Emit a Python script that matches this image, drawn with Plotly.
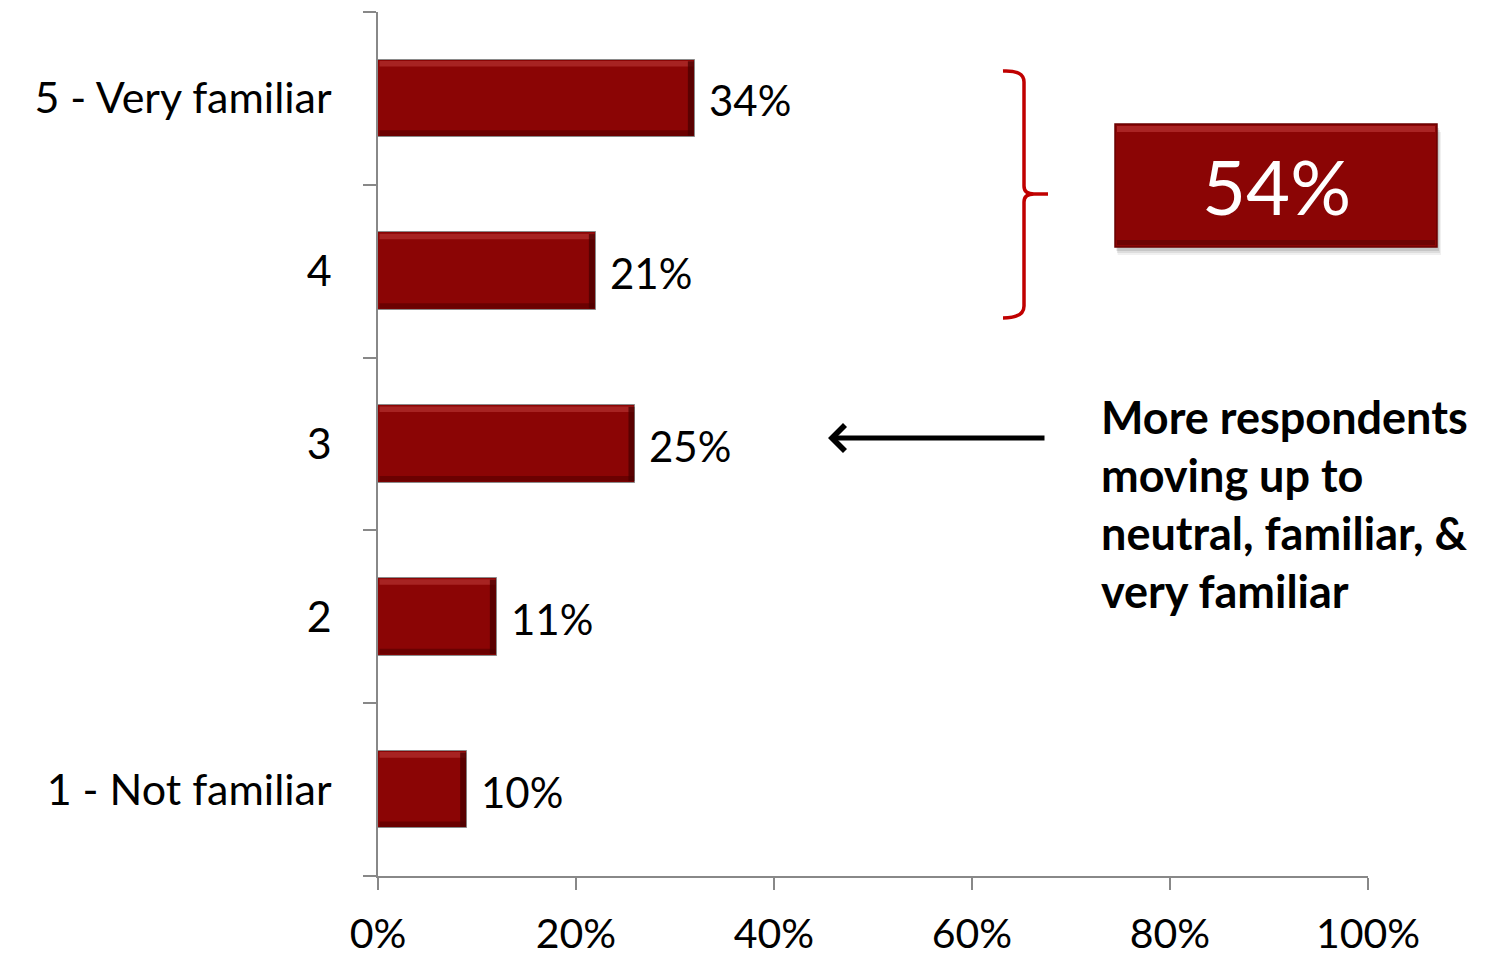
import plotly.graph_objects as go

# ---- data ----
categories = ["1 - Not familiar", "2", "3", "4", "5 - Very familiar"]
bar_lengths = [9, 12, 26, 22, 32]          # bar lengths as drawn (percent)
value_labels = ["10%", "11%", "25%", "21%", "34%"]
x_ticks = [0, 20, 40, 60, 80, 100]
x_tick_labels = ["0%", "20%", "40%", "60%", "80%", "100%"]
summary_label = "54%"
note_lines = ["More respondents", "moving up to", "neutral, familiar, &", "very familiar"]

W, H = 1486, 957
ML, MR, MT, MB = 378, 118, 12, 81
PW, PH = W - ML - MR, H - MT - MB

def px(x):
    return (x - ML) / PW

def py(y):
    return (H - MB - y) / PH

FONT = "Lato"
BAR = "#8B0505"
BARW = 0.45
FS = 42

ypos = list(range(len(categories)))

fig = go.Figure()
fig.add_trace(go.Bar(
    x=bar_lengths, y=ypos, orientation="h", width=BARW,
    marker=dict(color=BAR, line=dict(color="#8a8a8a", width=1)),
    hoverinfo="skip",
))

shapes = []
annotations = []
# bevel effect + value labels computed from bar data
for yi, v, lab in zip(ypos, bar_lengths, value_labels):
    top = yi + BARW / 2
    bot = yi - BARW / 2
    shapes.append(dict(type="rect", xref="x", yref="y", x0=0.15, x1=v - 0.15,
                       y0=top - 0.04, y1=top - 0.008, fillcolor="#B3302F",
                       line=dict(width=0), opacity=0.7, layer="above"))
    shapes.append(dict(type="rect", xref="x", yref="y", x0=0.15, x1=v - 0.15,
                       y0=bot + 0.008, y1=bot + 0.04, fillcolor="#5E0000",
                       line=dict(width=0), opacity=0.7, layer="above"))
    shapes.append(dict(type="rect", xref="x", yref="y", x0=v - 0.7, x1=v - 0.1,
                       y0=bot + 0.01, y1=top - 0.01, fillcolor="#4A0000",
                       line=dict(width=0), opacity=0.75, layer="above"))
    annotations.append(dict(xref="x", yref="y", x=v, y=yi, text=lab,
                            showarrow=False, xanchor="left", yanchor="middle",
                            xshift=12, yshift=-2,
                            font=dict(family=FONT, size=FS, color="#000")))

# curly bracket (red)
def P(x, y):
    return f"{px(x):.5f},{py(y):.5f}"

brace = (f"M{P(1003,71)} Q{P(1024,70)} {P(1024,82)} L{P(1024,186)} "
         f"Q{P(1024,194)} {P(1034,194)} L{P(1048,194)} "
         f"M{P(1034,194)} Q{P(1024,194)} {P(1024,202)} L{P(1024,306)} "
         f"Q{P(1024,318)} {P(1003,318)}")
shapes.append(dict(type="path", xref="paper", yref="paper", path=brace,
                   line=dict(color="#C00000", width=3.5)))

# summary box with soft shadow
for off, op in [(8, 0.06), (6, 0.08), (4, 0.1)]:
    shapes.append(dict(type="rect", xref="paper", yref="paper",
                       x0=px(1115 + off / 3), x1=px(1437 + off / 2),
                       y0=py(247 + off), y1=py(124 + off),
                       fillcolor=f"rgba(0,0,0,{op})", line=dict(width=0)))
shapes.append(dict(type="rect", xref="paper", yref="paper",
                   x0=px(1115), x1=px(1437), y0=py(247), y1=py(124),
                   fillcolor=BAR, line=dict(color="#6A0000", width=1.5)))
shapes.append(dict(type="rect", xref="paper", yref="paper",
                   x0=px(1117), x1=px(1435), y0=py(132), y1=py(126),
                   fillcolor="#B83232", line=dict(width=0), opacity=0.7))
shapes.append(dict(type="rect", xref="paper", yref="paper",
                   x0=px(1117), x1=px(1435), y0=py(245), y1=py(240),
                   fillcolor="#5A0000", line=dict(width=0), opacity=0.6))

annotations += [
    dict(xref="paper", yref="paper", x=px(1276), y=py(186), text=summary_label,
         showarrow=False, font=dict(family=FONT, size=76, color="white"),
         xanchor="center", yanchor="middle"),
    dict(xref="paper", yref="paper", x=px(828), y=py(438), text="",
         showarrow=True, axref="pixel", ayref="pixel", ax=218, ay=0,
         arrowhead=4, arrowsize=1, arrowwidth=5, arrowcolor="black"),
]
for i, line in enumerate(note_lines):
    annotations.append(dict(xref="paper", yref="paper", x=px(1099),
                            y=py(417 + 58 * i), text=f"<b>{line}</b>",
                            showarrow=False, xanchor="left", yanchor="middle",
                            font=dict(family=FONT, size=45, color="black")))

fig.update_layout(
    width=W, height=H, margin=dict(l=ML, r=MR, t=MT, b=MB, autoexpand=False),
    paper_bgcolor="white", plot_bgcolor="white", showlegend=False,
    bargap=0, shapes=shapes, annotations=annotations,
    xaxis=dict(range=[0, 100], tickvals=x_ticks, ticktext=x_tick_labels,
               ticks="outside", ticklen=12, tickcolor="#888", tickwidth=1.5,
               showline=True, linecolor="#888", linewidth=1.5, automargin=False,
               showgrid=False, zeroline=False, ticklabelstandoff=9,
               tickfont=dict(family=FONT, size=41, color="#000")),
    yaxis=dict(range=[-0.5, 4.5], tickvals=ypos, ticktext=categories,
               ticks="", showline=True, linecolor="#888", linewidth=1.5,
               showgrid=False, zeroline=False, ticklabelstandoff=36,
               automargin=False,
               tickfont=dict(family=FONT, size=43, color="#000"),
               minor=dict(tickvals=[-0.5, 0.5, 1.5, 2.5, 3.5, 4.5],
                          ticks="outside", ticklen=13, tickcolor="#888",
                          tickwidth=1.5, showgrid=False)),
)

fig.write_html("out.html")
